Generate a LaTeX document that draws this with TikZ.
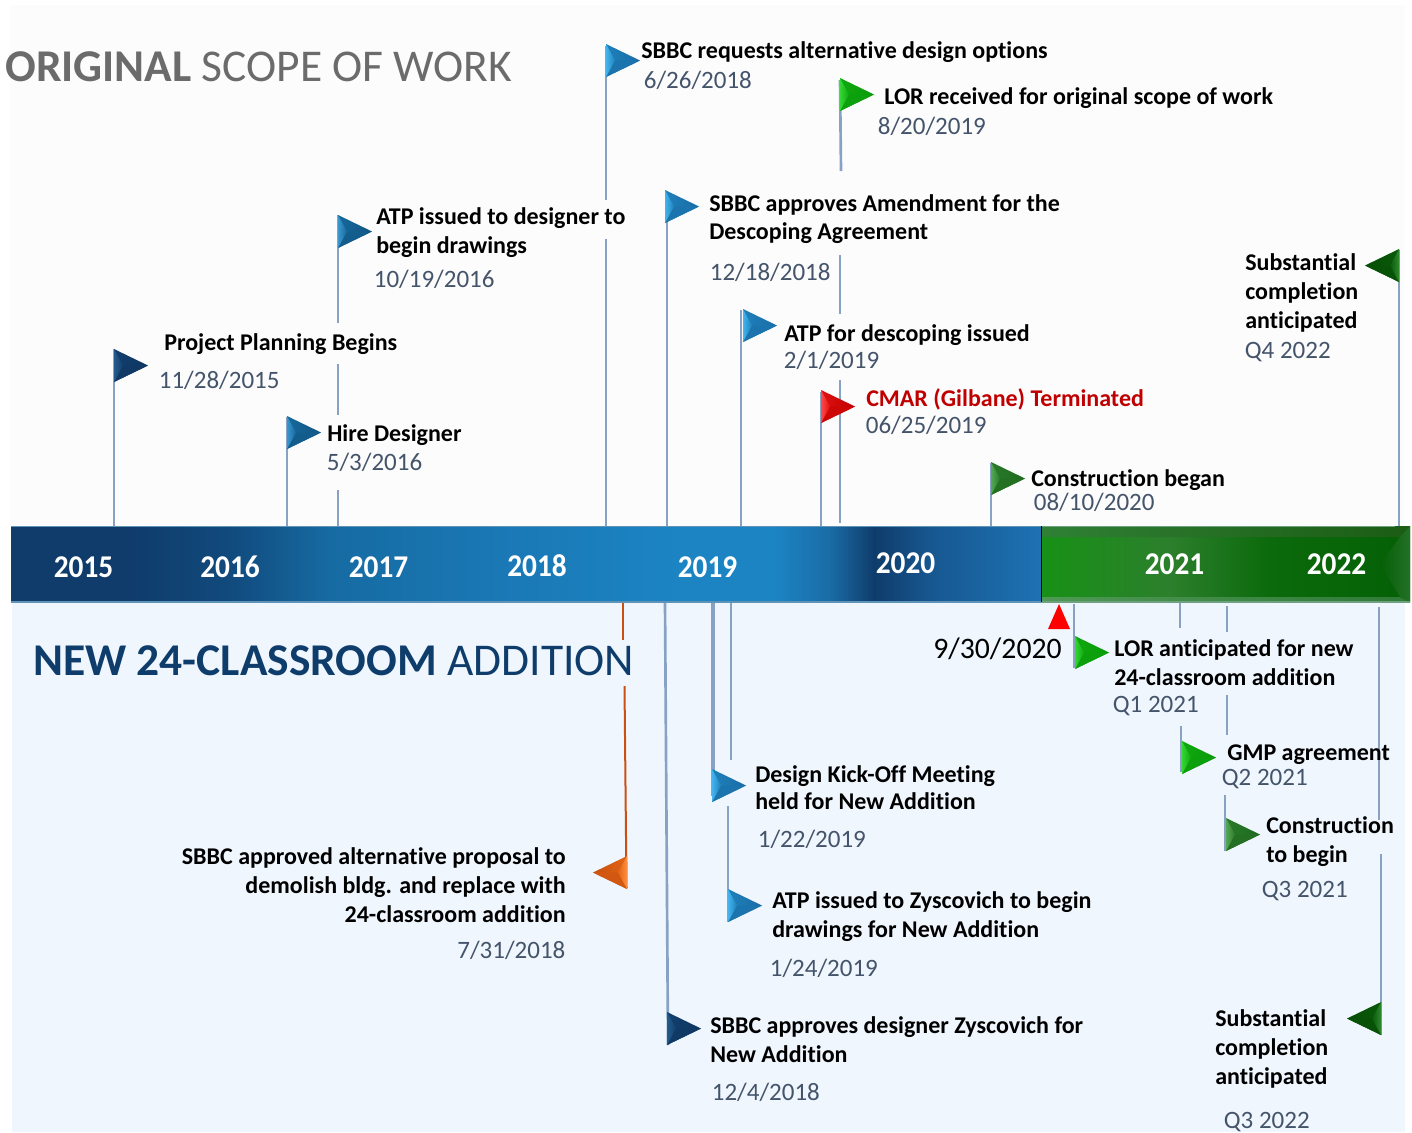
\documentclass[tikz,border=0pt]{standalone}
\usepackage{fontspec}
\setmainfont[Ligatures={NoCommon}]{Carlito}
\definecolor{datec}{HTML}{44546A}
\definecolor{polec}{HTML}{88A2C4}
\definecolor{greyt}{HTML}{6B6B6B}
\definecolor{navyt}{HTML}{0F3D6B}
\definecolor{redt}{HTML}{C00000}
\definecolor{bgtop}{HTML}{FCFCFD}
\definecolor{bgbot}{HTML}{F0F6FE}
\definecolor{blueAl}{HTML}{43B4EE}\definecolor{blueAm}{HTML}{1F80BA}\definecolor{blueAd}{HTML}{1A6CA6}
\definecolor{blueBl}{HTML}{3A96CF}\definecolor{blueBm}{HTML}{16689C}\definecolor{blueBd}{HTML}{115582}
\definecolor{navyl}{HTML}{245A8C}\definecolor{navym}{HTML}{123F6E}\definecolor{navyd}{HTML}{0E3560}
\definecolor{grnl}{HTML}{33D633}\definecolor{grnm}{HTML}{0FA80F}\definecolor{grnd}{HTML}{0A9A0A}
\definecolor{dgrl}{HTML}{55A855}\definecolor{dgrm}{HTML}{2A7A2A}\definecolor{dgrd}{HTML}{1E6A1E}
\definecolor{dkgl}{HTML}{2E8A2E}\definecolor{dkgm}{HTML}{0A5A0A}\definecolor{dkgd}{HTML}{064C06}
\definecolor{redl}{HTML}{FF4A4A}\definecolor{redm}{HTML}{E01010}\definecolor{redd}{HTML}{C00000}
\definecolor{orgl}{HTML}{FF9040}\definecolor{orgm}{HTML}{E06515}\definecolor{orgd}{HTML}{C9500F}
\definecolor{bA}{HTML}{0F3C6B}\definecolor{bB}{HTML}{114A7D}\definecolor{bC}{HTML}{166BA2}
\definecolor{bD}{HTML}{1A78B5}\definecolor{bE}{HTML}{1C84C3}\definecolor{bF}{HTML}{1A6CA6}
\definecolor{bG}{HTML}{175790}\definecolor{bH}{HTML}{1D72B3}
\definecolor{gA}{HTML}{179116}\definecolor{gB}{HTML}{2C7F2C}\definecolor{gC}{HTML}{0B6A0B}\definecolor{gD}{HTML}{056005}
\definecolor{gtA}{HTML}{2F8035}\definecolor{gtB}{HTML}{1C5C14}\definecolor{gbA}{HTML}{4E9A55}\definecolor{gbB}{HTML}{2F7A36}
\definecolor{gR}{HTML}{247028}\definecolor{edgeb}{HTML}{5F93B8}\definecolor{edgeg}{HTML}{6FA080}
\tikzset{
  pole/.style={draw=polec,line width=2pt},
  opole/.style={draw=orgd,line width=1.5pt},
  head/.style={inner sep=0pt,anchor=base west,font=\bfseries\fontsize{18}{21.75}\selectfont,text=black},
  date/.style={inner sep=0pt,anchor=base west,xshift=-.3pt,font=\fontsize{18.75}{22.5}\selectfont,text=datec},
  year/.style={inner sep=0pt,anchor=base west,font=\bfseries\fontsize{22}{26}\selectfont,text=white},
  ttl/.style={inner sep=0pt,anchor=base west,font=\fontsize{34.1}{40}\selectfont},
}
\newcommand\lns[2]{\begin{tabular}[t]{@{}#1@{}}#2\end{tabular}}
\newcommand\yr[1]{\scalebox{1}[1.08]{#1}}
\newcommand\seg[3]{\coordinate (#1a) at #2;\coordinate (#1b) at #3;\draw[pole] (#1a) -- (#1b);}
\newcommand\flagR[3]{\begin{scope}[shift={(#1,#2)}]
  \shade[left color=#3m,right color=#3d] (0,0)--(34,16.5)--(0,33)--cycle;
  \fill[#3d!60!#3m] (0,33)--(9,16.5)--(34,16.5)--cycle;
  \shade[left color=#3l,right color=#3m] (0,0)--(9,16.5)--(0,33)--cycle;
  \end{scope}}
\newcommand\flagL[3]{\begin{scope}[shift={(#1,#2)}]
  \shade[left color=#3d,right color=#3m] (0,0)--(-34,16.5)--(0,33)--cycle;
  \fill[#3d!60!#3m] (0,33)--(-9,16.5)--(-34,16.5)--cycle;
  \shade[left color=#3m,right color=#3l] (0,0)--(-9,16.5)--(0,33)--cycle;
  \end{scope}}
\newcommand\grad[4]{\shade[left color=#3,right color=#4] (#1,526) rectangle (#2,602);}
\begin{document}
\begin{tikzpicture}[x=0.75pt,y=-0.75pt]
\useasboundingbox (0,0) rectangle (1412,1132);
\fill[white] (0,0) rectangle (1412,1132);
\fill[bgtop] (10,5) rectangle (1405,526);
\fill[bgbot] (12,602) rectangle (1405,1132);
% timeline bar, blue part
\fill[bA] (11,526) rectangle (131,602);
\grad{130.5}{230}{bA}{bB}
\grad{229.5}{330}{bB}{bC}
\grad{329.5}{500}{bC}{bD}
\grad{499.5}{680}{bD}{bE}
\fill[bE] (679.5,526) rectangle (775,602);
\grad{774.5}{830}{bE}{bF}
\grad{829.5}{875}{bF}{bA}
\grad{874.5}{930}{bA}{bG}
\grad{929.5}{1041}{bG}{bH}
\draw[edgeb,line width=1pt] (11,526.5) -- (1041,526.5);
\draw[edgeb,line width=1pt] (11,602) -- (1041,602);
% timeline bar, green part
\shade[left color=gA,right color=gB] (1041,526) rectangle (1170,602);
\shade[left color=gB,right color=gC] (1169.5,526) rectangle (1270,602);
\shade[left color=gC,right color=gD] (1269.5,526) rectangle (1410,602);
\shade[left color=gtA,right color=gtB] (1041,526) -- (1410,526) -- (1400,537) -- (1041,537) -- cycle;
\shade[left color=gbA,right color=gbB] (1041,597) -- (1400,597) -- (1410,602) -- (1041,602) -- cycle;
\shade[left color=gD,right color=gR] (1410,526) -- (1400,537) -- (1380,564) -- (1400,597) -- (1410,602) -- cycle;
\draw[edgeg,line width=1pt] (1041,602) -- (1410,602);
\draw[edgeg,line width=1pt] (1041,526.5) -- (1395,526.5);
\draw[black!80!blue,line width=1.1pt] (1041.5,526) -- (1041.5,602);
% poles above the bar
\seg{u1}{(114,349)}{(114,526)}
\seg{u2}{(287,417)}{(287,526)}
\seg{u3}{(338,215)}{(338,323)}
\seg{u4}{(338,364)}{(338,415)}
\seg{u5}{(338,490)}{(338,526)}
\seg{u6}{(606,46)}{(606,200)}
\seg{u7}{(606,239)}{(606,526)}
\seg{u8}{(667,192)}{(667,526)}
\seg{u9}{(741,310)}{(741,526)}
\seg{u10}{(821,392)}{(821,526)}
\seg{u11}{(840,80)}{(841,171)}
\seg{u12}{(840,255)}{(840,314)}
\seg{u13}{(840,380)}{(840,523)}
\seg{u14}{(991,463)}{(991,526)}
\seg{u15}{(1399,250)}{(1399,526)}
% poles below the bar
\coordinate (o1a) at (623,603);\coordinate (o1b) at (623,640);\draw[opole] (o1a) -- (o1b);
\coordinate (o2a) at (624.5,686);\coordinate (o2b) at (626.5,888);\draw[opole] (o2a) -- (o2b);
\seg{d1}{(665,603)}{(668,1045)}
\coordinate (d2a) at (713,603);\coordinate (d2b) at (713,796);\draw[pole,line width=2.5pt] (d2a) -- (d2b);
\seg{d3}{(731,603)}{(731,760)}
\seg{d4}{(728,806)}{(728,922)}
\seg{d5}{(1074,604)}{(1074,668)}
\seg{d6}{(1180,603)}{(1180,628)}
\seg{d7}{(1181,726)}{(1181,772)}
\seg{d8}{(1227,606)}{(1227,632)}
\seg{d9}{(1227,695)}{(1227,735)}
\seg{d10}{(1225,795)}{(1225,851)}
\seg{d11}{(1379,607)}{(1379,820)}
\seg{d12}{(1381,854)}{(1381,1035)}
% flags
\flagR{114}{349}{navy}
\flagR{287}{416}{blueB}
\flagR{338}{215}{blueB}
\flagR{606}{44}{blueA}
\flagR{665}{190}{blueA}
\flagR{743}{309}{blueA}
\flagR{821}{390}{red}
\flagR{840}{78}{grn}
\flagR{991}{462}{dgr}
\flagL{1399}{249}{dkg}
\flagR{712}{769}{blueA}
\flagR{728}{889}{blueA}
\flagL{627}{856}{org}
\flagR{667}{1012}{navy}
\flagR{1075}{636}{grn}
\flagR{1182}{741}{grn}
\flagR{1226}{818}{dgr}
\flagL{1381}{1002}{dkg}
\fill[red] (1059,604) -- (1070,629) -- (1048,629) -- cycle;
% titles
\node[ttl,text=greyt] (t1) at (5,81) {\textbf{ORIGINAL} SCOPE OF WORK};
\node[ttl,text=navyt] (t2) at (33,675.5) {\textbf{NEW 24-CLASSROOM} ADDITION};
% years
\node[year] (y15) at (53.5,577) {\yr{2015}};
\node[year] (y16) at (200,577) {\yr{2016}};
\node[year] (y17) at (348.5,577) {\yr{2017}};
\node[year] (y18) at (507,576) {\yr{2018}};
\node[year] (y19) at (677.5,577) {\yr{2019}};
\node[year] (y20) at (875.5,573) {\yr{2020}};
\node[year] (y21) at (1144.5,574) {\yr{2021}};
\node[year] (y22) at (1306.5,574) {\yr{2022}};
% labels above
\node[head] (a1) at (641,58) {SBBC requests alternative design options};
\node[date] (a1d) at (644,88) {6/26/2018};
\node[head] (a2) at (884,104) {LOR received for original scope of work};
\node[date] (a2d) at (878,134) {8/20/2019};
\node[head] (a3) at (376,224) {\lns{l}{ATP issued to designer to\\begin drawings}};
\node[date] (a3d) at (374,287) {10/19/2016};
\node[head] (a4) at (709,211) {\lns{l}{SBBC approves Amendment for the\\[-.7pt]Descoping Agreement}};
\node[date] (a4d) at (710,280) {12/18/2018};
\node[head] (a5) at (164,350) {Project Planning Begins};
\node[date] (a5d) at (159,388) {11/28/2015};
\node[head] (a6) at (327,441) {Hire Designer};
\node[date] (a6d) at (327,470) {5/3/2016};
\node[head] (a7) at (784,341) {ATP for descoping issued};
\node[date] (a7d) at (784,368) {2/1/2019};
\node[head,text=redt] (a8) at (866,406.5) {CMAR (Gilbane) Terminated};
\node[date] (a8d) at (866,433) {06/25/2019};
\node[head] (a9) at (1031,486.5) {Construction began};
\node[date] (a9d) at (1034,510) {08/10/2020};
\node[head] (a10) at (1245,270.5) {\lns{l}{Substantial\\completion\\anticipated}};
\node[date] (a10d) at (1245,358) {Q4 2022};
% labels below
\node[inner sep=0pt,anchor=base west,font=\fontsize{22.3}{26}\selectfont] (b0) at (933,658) {9/30/2020};
\node[head] (b1) at (1114,656) {\lns{l}{LOR anticipated for new\\24-classroom addition}};
\node[date] (b1d) at (1113,712) {Q1 2021};
\node[head] (b2) at (1227,760) {GMP agreement};
\node[date] (b2d) at (1222,785) {Q2 2021};
\node[head] (b3) at (1266,833.5) {\lns{l}{Construction\\to begin}};
\node[date] (b3d) at (1262,897) {Q3 2021};
\node[head] (b4) at (755,782) {\lns{l}{Design Kick-Off Meeting\\[-1.3pt]held for New Addition}};
\node[date] (b4d) at (758,847) {1/22/2019};
\node[head] (b5) at (772,908) {\lns{l}{ATP issued to Zyscovich to begin\\drawings for New Addition}};
\node[date] (b5d) at (770,976) {1/24/2019};
\node[head,anchor=base east] (b6) at (566,864) {\lns{r}{SBBC approved alternative proposal to\\demolish bldg. and replace with\\24-classroom addition}};
\node[date,anchor=base east] (b6d) at (566,958) {7/31/2018};
\node[head] (b7) at (710,1033) {\lns{l}{SBBC approves designer Zyscovich for\\New Addition}};
\node[date] (b7d) at (712,1100) {12/4/2018};
\node[head] (b8) at (1215,1026.5) {\lns{l}{Substantial\\completion\\anticipated}};
\node[date] (b8d) at (1224,1128) {Q3 2022};
\end{tikzpicture}
\end{document}
